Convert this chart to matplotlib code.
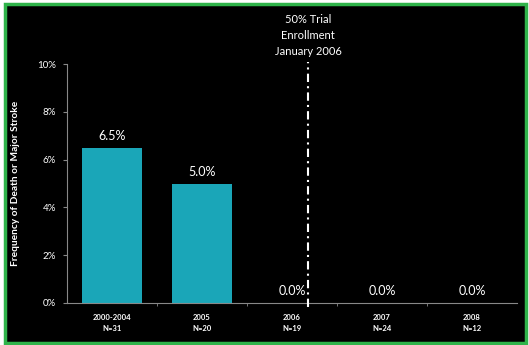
import matplotlib
matplotlib.use("Agg")
import matplotlib.pyplot as plt
from matplotlib.patches import Rectangle

categories = ["2000-2004", "2005", "2006", "2007", "2008"]
n_values = ["N=31", "N=20", "N=19", "N=24", "N=12"]
rates = [6.5, 5.0, 0.0, 0.0, 0.0]
value_labels = ["6.5%", "5.0%", "0.0%", "0.0%", "0.0%"]
y_ticks = [0, 2, 4, 6, 8, 10]
y_tick_labels = ["0%", "2%", "4%", "6%", "8%", "10%"]
marker_x = 2.18
marker_text = "50% Trial\nEnrollment\nJanuary 2006"

plt.rcParams['font.family'] = ['Lato', 'DejaVu Sans']

fig = plt.figure(figsize=(5.29, 3.45), dpi=100)
fig.patch.set_facecolor("white")
# black panel with green border
border = Rectangle((4.5/529, 2.5/345), 521/529, 338.5/345, transform=fig.transFigure,
                   facecolor="black", edgecolor="#2fb34a", linewidth=2.5, zorder=-10)
fig.patches.append(border)

ax = fig.add_axes([67/529, 1-303/345, 450/529, 239/345])
ax.set_zorder(1)
ax.set_facecolor("black")
x = list(range(len(categories)))
ax.bar(x, rates, width=0.66, color="#1aa6b8", zorder=2)
ax.set_xlim(-0.5, 4.5)
ax.set_ylim(0, 10)

for xi, v, lab in zip(x, rates, value_labels):
    ax.text(xi, v + 0.25, lab, ha="center", va="bottom", color="white", fontsize=9)

ax.set_yticks(y_ticks)
ax.set_yticklabels(y_tick_labels, color="white", fontsize=7)
ax.set_xticks(x)
ax.set_xticklabels([f"{c}\n{n}" for c, n in zip(categories, n_values)],
                   color="white", fontsize=5.5, fontweight="bold", linespacing=1.6)
ax.set_xticks([0.5, 1.5, 2.5, 3.5], minor=True)
ax.tick_params(axis="x", which="major", length=0, pad=8)
ax.tick_params(axis="x", which="minor", length=2, color="#888888")
ax.tick_params(axis="y", length=3, color="#888888", pad=5)

for s in ["top", "right"]:
    ax.spines[s].set_visible(False)
for s in ["left", "bottom"]:
    ax.spines[s].set_color("#888888")
    ax.spines[s].set_linewidth(0.8)

ax.set_ylabel("Frequency of Death or Major Stroke", color="white", fontsize=7.3,
              fontweight="bold", labelpad=12)

ax.plot([marker_x, marker_x], [-0.15, 10.1], color="white", linestyle=(0, (4, 2, 1, 2)),
        linewidth=1.5, clip_on=False, zorder=3)
ax.text(marker_x, 10.3, marker_text, ha="center", va="bottom", color="white",
        fontsize=8, linespacing=1.55, clip_on=False)

fig.savefig("out.png", dpi=100, facecolor="white")
